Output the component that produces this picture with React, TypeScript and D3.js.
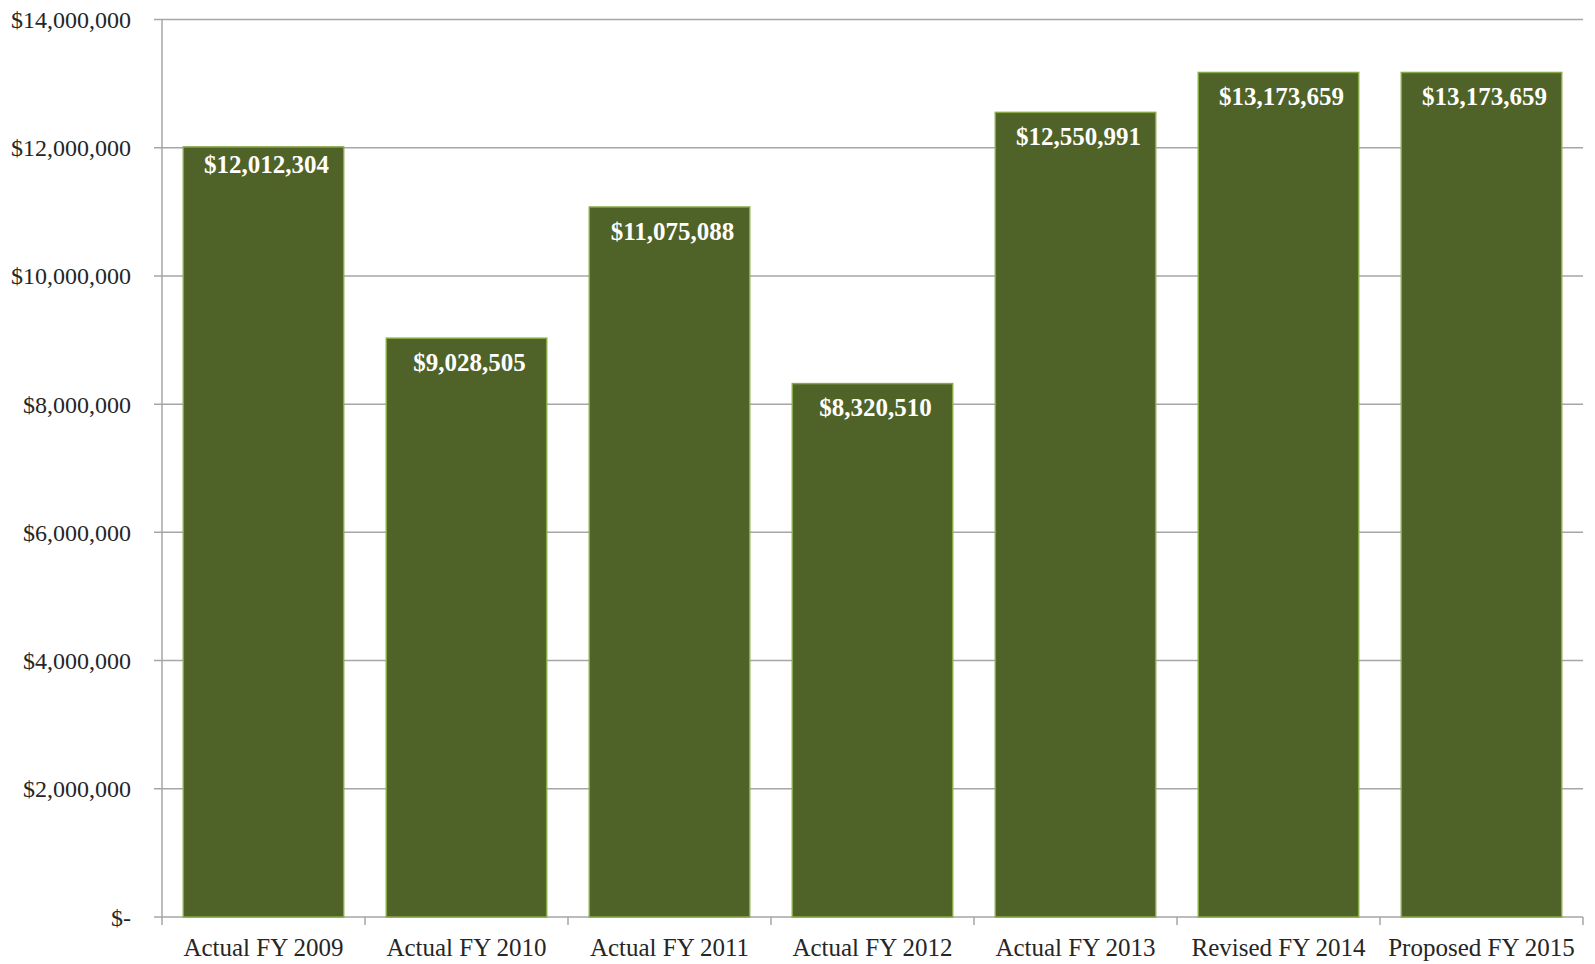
import React from "react";
import * as d3 from "d3";

const categories = [
  "Actual FY 2009",
  "Actual FY 2010",
  "Actual FY 2011",
  "Actual FY 2012",
  "Actual FY 2013",
  "Revised FY 2014",
  "Proposed FY 2015",
];
const values = [12012304, 9028505, 11075088, 8320510, 12550991, 13173659, 13173659];
const yTicks = [0, 2000000, 4000000, 6000000, 8000000, 10000000, 12000000, 14000000];

const W = 1595;
const H = 964;
const left = 162;
const right = 1583;
const top = 19.5;
const bottom = 917;
const FONT = "'Liberation Serif', 'Times New Roman', serif";

const fmt = (v: number) => (v === 0 ? "$-" : "$" + d3.format(",")(v));

export default function App() {
  const x = d3.scaleBand<string>().domain(categories).range([left, right]).paddingInner(0.21).paddingOuter(0.105);
  const y = d3.scaleLinear().domain([0, 14000000]).range([bottom, top]);
  const step = x.step();
  const gridColor = "#A6A6A6";

  return (
    <svg
      width={W}
      height={H}
      style={{ position: "absolute", left: 0, top: 0, background: "#fff" }}
    >
      {yTicks.map((t) => (
        <g key={t}>
          <line x1={left - 8} x2={right} y1={y(t)} y2={y(t)} stroke={gridColor} strokeWidth={1.5} />
          <text
            x={131}
            y={y(t) + 8.5}
            textAnchor="end"
            fontFamily={FONT}
            fontSize={24}
            fill="#262626"
          >
            {fmt(t)}
          </text>
        </g>
      ))}
      <line x1={left} x2={left} y1={top} y2={bottom} stroke={gridColor} strokeWidth={1.5} />
      {categories.map((c, i) => (
        <line
          key={"tick" + c}
          x1={left + step * (i + 1)}
          x2={left + step * (i + 1)}
          y1={bottom}
          y2={bottom + 8}
          stroke={gridColor}
          strokeWidth={1.5}
        />
      ))}
      <line x1={left} x2={left} y1={bottom} y2={bottom + 8} stroke={gridColor} strokeWidth={1.5} />
      {categories.map((c, i) => {
        const bx = x(c)!;
        const bw = x.bandwidth();
        const by = y(values[i]);
        return (
          <g key={c}>
            <rect
              x={bx}
              y={by}
              width={bw}
              height={bottom - by}
              fill="#4F6228"
              stroke="#86A845"
              strokeWidth={1.5}
            />
            <text
              x={bx + bw / 2 + 3}
              y={by + (i === 0 ? 26.5 : 32.5)}
              textAnchor="middle"
              fontFamily={FONT}
              fontWeight="bold"
              fontSize={25}
              fill="#ffffff"
            >
              {fmt(values[i])}
            </text>
            <text
              x={bx + bw / 2}
              y={956}
              textAnchor="middle"
              fontFamily={FONT}
              fontSize={25}
              fill="#262626"
            >
              {c}
            </text>
          </g>
        );
      })}
    </svg>
  );
}
